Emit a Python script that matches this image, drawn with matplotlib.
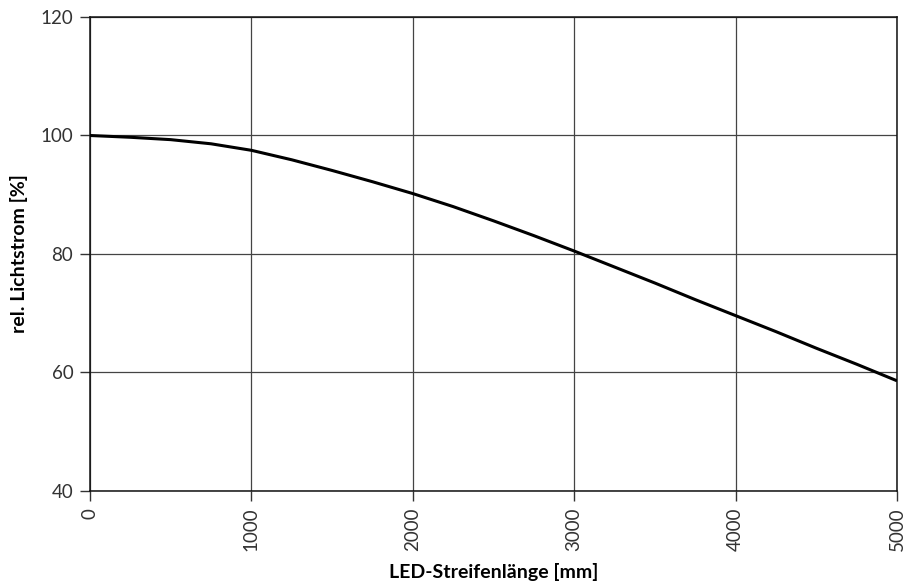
import matplotlib
matplotlib.use("Agg")
import matplotlib.pyplot as plt

# curve
length_mm = [0, 250, 500, 750, 1000, 1250, 1500, 1750, 2000, 2250, 2500, 2750,
             3000, 3250, 3500, 3750, 4000, 4250, 4500, 4750, 5000]
rel_flux = [100.0, 99.7, 99.3, 98.6, 97.5, 95.9, 94.1, 92.2, 90.2, 88.0, 85.6, 83.1,
            80.5, 77.8, 75.1, 72.3, 69.6, 66.9, 64.1, 61.4, 58.6]

x_ticks = [0, 1000, 2000, 3000, 4000, 5000]
y_ticks = [40, 60, 80, 100, 120]

plt.rcParams["font.family"] = ["Lato", "DejaVu Sans"]

fig = plt.figure(figsize=(9.07, 5.87), dpi=100)
ax = fig.add_axes([90 / 907, 96 / 587, 807 / 907, 474 / 587])

ax.plot(length_mm, rel_flux, color="black", linewidth=2.2, solid_capstyle="butt", zorder=3)

ax.set_xlim(0, 5000)
ax.set_ylim(40, 120)
ax.set_xticks(x_ticks)
ax.set_yticks(y_ticks)
ax.set_xticklabels([str(v) for v in x_ticks], rotation=90, fontsize=13.5, color="#333333")
ax.set_yticklabels([str(v) for v in y_ticks], fontsize=13.5, color="#333333")
ax.tick_params(direction="out", length=7, width=1, color="#333333", pad=5)

ax.grid(True, color="#444444", linewidth=0.9)
ax.set_axisbelow(True)
for spine in ax.spines.values():
    spine.set_color("#111111")
    spine.set_linewidth(1.1)

ax.set_xlabel("LED-Streifenlänge [mm]", fontsize=14, fontweight="bold")
ax.set_ylabel("rel. Lichtstrom [%]", fontsize=14, fontweight="bold")
ax.xaxis.set_label_coords(0.5, -0.152)
ax.yaxis.set_label_coords(-0.077, 0.5)

fig.savefig("out.png", dpi=100, facecolor="white")
